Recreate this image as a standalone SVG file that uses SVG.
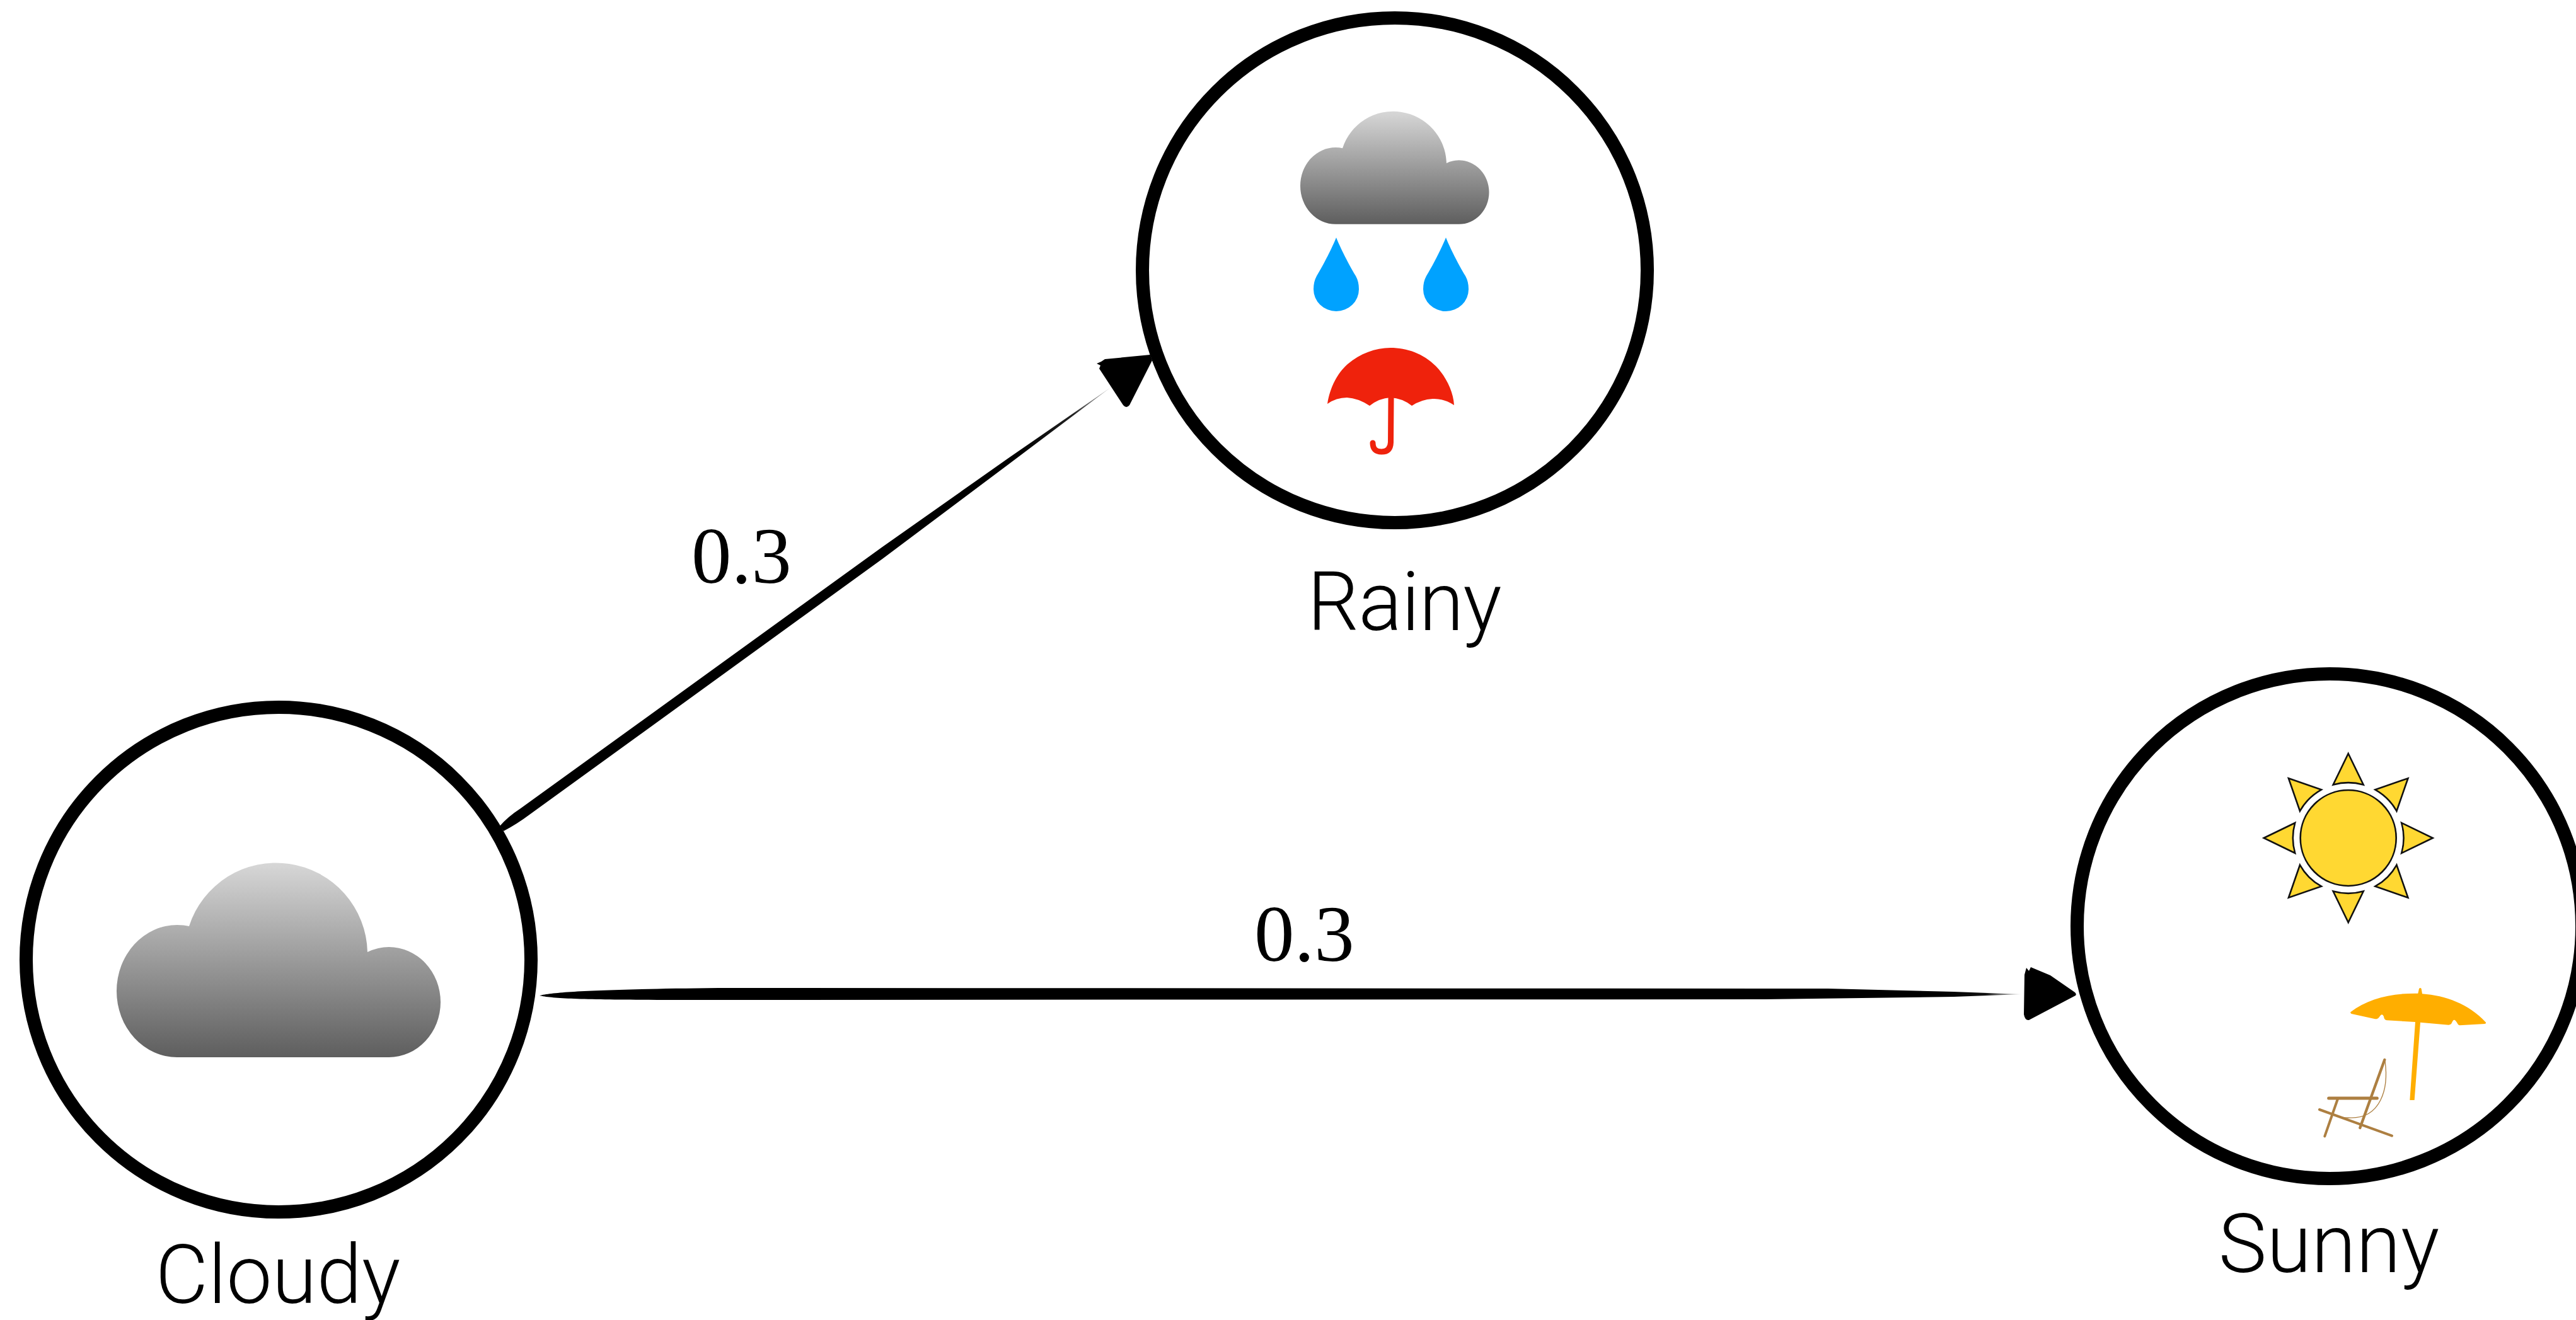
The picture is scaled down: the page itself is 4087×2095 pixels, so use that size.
<svg xmlns="http://www.w3.org/2000/svg" width="4087" height="2095" viewBox="0 0 4087 2095">
<style>
.state{fill:#fff;stroke:#000;stroke-width:21}
.label{font-family:"Roboto","Liberation Sans",sans-serif;font-weight:300;font-size:129px;fill:#000}
.prob{font-family:"Liberation Serif",serif;font-size:127px;fill:#000}
.ray{fill:#FFD832;stroke:#111;stroke-width:2.6;stroke-linejoin:miter}
.drop{fill:#00A2FF}
.chair{fill:none;stroke:#AD7F41;stroke-linecap:round}
</style>
<defs>
<linearGradient id="cloudFill" x1="0" y1="0" x2="0" y2="1"><stop offset="0" stop-color="#D7D7D7"/><stop offset="1" stop-color="#5E5E5E"/></linearGradient>
<linearGradient id="fadeH" gradientUnits="userSpaceOnUse" x1="3080" y1="0" x2="3207" y2="0"><stop offset="0" stop-color="#000"/><stop offset="0.55" stop-color="#111"/><stop offset="1" stop-color="#ddd"/></linearGradient>
<linearGradient id="fadeD" gradientUnits="userSpaceOnUse" x1="1620" y1="725" x2="1762" y2="615"><stop offset="0" stop-color="#000"/><stop offset="0.6" stop-color="#222"/><stop offset="1" stop-color="#ccc"/></linearGradient>
<path id="cloud" fill="url(#cloudFill)" d="M281 1678A96 105 0 0 1 281 1468Q292 1468 300 1470A145 145 0 0 1 583 1511Q600 1503 617 1503A82 87.500 0 0 1 617 1678Z"/>
<path id="ray" class="ray" d="M0-134L24-84.500A88 88 0 0 0-24-84.500Z"/>
</defs>

<g id="connectors">
<path id="edge-cloudy-rainy" fill="url(#fadeD)" d="M793 1311Q806 1296 826 1283L1400 868L1600 727L1762 615L1600 737L1400 887L840 1293Q820 1308 799 1319Z"/>
<path id="edge-cloudy-sunny" fill="url(#fadeH)" d="M856 1580C880 1574 950 1570 1140 1568L2900 1569L3100 1574L3207 1578L3100 1582L2800 1586L1140 1587C950 1587 880 1586 856 1580Z"/>
<path id="head-rainy" fill="#000" d="M1740 577L1747 574L1753 570L1825 563L1828 572L1792 643Q1787 649 1782 643L1744 585L1746 580Z"/>
<path id="head-sunny" fill="#000" d="M3215 1536L3219 1541L3222 1535L3253 1548L3292 1575Q3295 1578 3293 1580L3219 1619Q3213 1620 3211 1610L3212 1547Z"/>
<text class="prob" x="1097" y="925">0.3</text>
<text class="prob" x="1990" y="1525">0.3</text>
</g>

<g id="node-cloudy">
<circle class="state" cx="442" cy="1523" r="400.500"/>
<use href="#cloud"/>
<text class="label" x="441" y="2068" text-anchor="middle">Cloudy</text>
</g>

<g id="node-rainy">
<circle class="state" cx="2213" cy="429" r="400.500"/>
<use href="#cloud" transform="translate(2063 176) scale(.5827 .58) translate(-185 -1368)"/>
<path class="drop" d="M2120 377C2126 392 2140 420 2151 438Q2156 447 2156 459A36 35 0 0 1 2084 459Q2084 447 2089 438C2100 420 2114 392 2120 377Z"/>
<path class="drop" d="M2294 377C2300 392 2314 420 2325 438Q2330 447 2330 459A36 35 0 0 1 2258 459Q2258 447 2263 438C2274 420 2288 392 2294 377Z"/>
<path fill="#EF220C" d="M2106 641C2110 615 2122 592 2138 578C2158 561 2182 552 2206 552C2232 552 2258 561 2278 581C2292 595 2306 620 2307 643Q2290 632 2273 633Q2255 634 2240 644Q2225 632 2206 631Q2188 632 2173 644Q2155 632 2137 631Q2120 631 2106 641Z"/>
<path fill="none" stroke="#EF220C" stroke-width="9" stroke-linecap="round" d="M2207 632L2206.500 702Q2206 717 2192 717Q2178 717 2178 703"/>
<text class="label" x="2228" y="1000" text-anchor="middle" letter-spacing="-1">Rainy</text>
</g>

<g id="node-sunny">
<circle class="state" cx="3696" cy="1470" r="400.500"/>
<g id="sun" transform="translate(3725.700 1330)">
<circle r="76" fill="#FFD832" stroke="#111" stroke-width="2.600"/>
<use href="#ray"/>
<use href="#ray" transform="rotate(45)"/>
<use href="#ray" transform="rotate(90)"/>
<use href="#ray" transform="rotate(135)"/>
<use href="#ray" transform="rotate(180)"/>
<use href="#ray" transform="rotate(225)"/>
<use href="#ray" transform="rotate(270)"/>
<use href="#ray" transform="rotate(315)"/>
</g>
<g id="beach" transform="translate(3600 1540) scale(.33333)">
<path fill="#FFAE00" d="M388 199C470 135 580 108 709 110L714 88Q720 80 725 88L729 112C840 120 950 160 1032 248Q1034 254 1026 255L908 262Q900 262 895 250Q880 222 870 250Q866 260 855 260L720 248L692 618L670 618L696 246L560 238Q548 237 546 220Q538 200 525 222Q518 233 505 232L392 207Q386 204 388 199Z"/>
<path class="chair" stroke-width="13" d="M550 426L433 750"/>
<path class="chair" stroke-width="15" d="M284 609L514 609"/>
<path class="chair" stroke-width="12" stroke-linecap="butt" d="M326 615L265 790"/>
<path class="chair" stroke-width="12" d="M240 663L585 788"/>
<path class="chair" stroke-width="4" d="M552 432C570 560 535 712 375 702Q350 702 335 695"/>
</g>
<text class="label" x="3695" y="2019" text-anchor="middle">Sunny</text>
</g>
</svg>
